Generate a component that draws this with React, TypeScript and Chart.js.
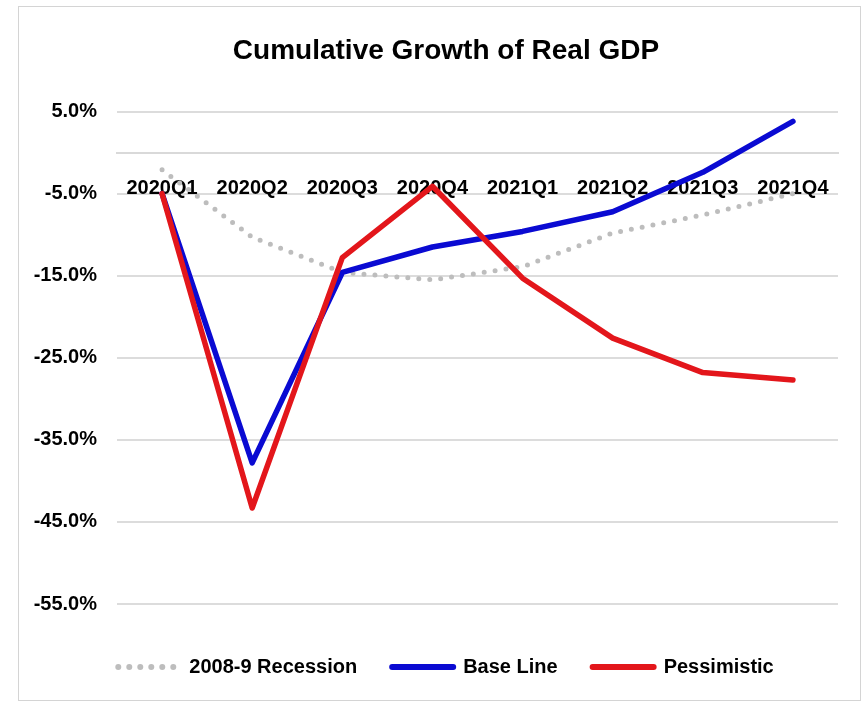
import React, { useEffect, useRef } from "react";
import { Chart, registerables } from "chart.js";

Chart.register(...registerables);

const CATEGORIES = ["2020Q1", "2020Q2", "2020Q3", "2020Q4", "2021Q1", "2021Q2", "2021Q3", "2021Q4"];
const RECESSION = [-2.1, -10.3, -14.6, -15.5, -13.9, -9.8, -7.6, -5.0];
const BASE_LINE = [-5.0, -37.8, -14.6, -11.5, -9.6, -7.2, -2.4, 3.8];
const PESSIMISTIC = [-5.0, -43.3, -12.8, -4.1, -15.3, -22.6, -26.8, -27.7];
const SERIES_NAMES = ["2008-9 Recession", "Base Line", "Pessimistic"];
const Y_MIN = -55;
const Y_MAX = 5;
const Y_STEP = 10;
const TITLE = "Cumulative Growth of Real GDP";

const SANS = "'Liberation Sans', Arial, sans-serif";

export default function App() {
  const canvasRef = useRef<HTMLCanvasElement | null>(null);

  useEffect(() => {
    const canvas = canvasRef.current;
    if (!canvas) return;
    const chart = new Chart(canvas, {
      type: "line",
      data: {
        labels: CATEGORIES,
        datasets: [
          {
            label: SERIES_NAMES[0],
            data: RECESSION,
            borderColor: "#bdbdbd",
            backgroundColor: "#bdbdbd",
            borderWidth: 5,
            borderDash: [0, 11],
            borderCapStyle: "round",
            pointRadius: 0,
            tension: 0,
            order: 3,
          },
          {
            label: SERIES_NAMES[1],
            data: BASE_LINE,
            borderColor: "#0a0ad2",
            backgroundColor: "#0a0ad2",
            borderWidth: 5.5,
            borderCapStyle: "round",
            borderJoinStyle: "round",
            pointRadius: 0,
            tension: 0,
            order: 2,
          },
          {
            label: SERIES_NAMES[2],
            data: PESSIMISTIC,
            borderColor: "#e3161b",
            backgroundColor: "#e3161b",
            borderWidth: 5.5,
            borderCapStyle: "round",
            borderJoinStyle: "round",
            pointRadius: 0,
            tension: 0,
            order: 1,
          },
        ],
      },
      options: {
        responsive: false,
        animation: false,
        devicePixelRatio: 1,
        layout: { padding: { left: 54, right: 24, top: 0, bottom: 15 } },
        plugins: {
          title: {
            display: true,
            text: TITLE,
            color: "#000",
            font: { family: SANS, size: 28, weight: "bold" },
            padding: { top: 34, bottom: 44 },
          },
          legend: {
            display: true,
            position: "bottom",
            labels: {
              usePointStyle: true,
              pointStyle: "line",
              pointStyleWidth: 61,
              padding: 35,
              color: "#000",
              font: { family: SANS, size: 20, weight: "bold" },
              sort: (a: any, b: any) => a.datasetIndex - b.datasetIndex,
              generateLabels: (c: any) => {
                const items = Chart.defaults.plugins.legend.labels.generateLabels(c);
                return items.map((it: any) => {
                  const ds: any = c.data.datasets[it.datasetIndex];
                  return {
                    ...it,
                    pointStyle: "line",
                    strokeStyle: ds.borderColor,
                    fillStyle: ds.borderColor,
                    lineWidth: 6,
                    lineDash: ds.borderDash || [],
                    lineCap: "round",
                  };
                });
              },
            },
          },
          tooltip: { enabled: false },
        },
        scales: {
          x: {
            type: "category",
            position: { y: 0 } as any,
            offset: true,
            grid: { display: true, color: "rgba(0,0,0,0)", drawTicks: false },
            border: { display: true, color: "#d9d9d9", width: 2 },
            ticks: {
              color: "#000",
              font: { family: SANS, size: 20, weight: "bold" },
              padding: 24,
              maxRotation: 0,
              autoSkip: false,
            },
          },
          xPad: {
            type: "category",
            position: "bottom",
            display: true,
            grid: { display: false },
            border: { display: false },
            ticks: { display: false },
            afterFit: (s: any) => {
              s.height = 18;
            },
          },
          y: {
            type: "linear",
            min: Y_MIN,
            max: Y_MAX,
            grid: { color: "#dcdcdc", lineWidth: 2, drawTicks: false },
            border: { display: false },
            ticks: {
              stepSize: Y_STEP,
              color: "#000",
              padding: 20,
              font: { family: SANS, size: 20, weight: "bold" },
              callback: (v: any) => Number(v).toFixed(1) + "%",
            },
            afterFit: (s: any) => {
              s.width = 63;
              s._computeLabelArea = () => undefined;
            },
          },
        },
      },
    } as any);
    return () => chart.destroy();
  }, []);

  return (
    <div style={{ position: "absolute", left: 0, top: 0, width: 862, height: 702, background: "#fff" }}>
      <div
        style={{
          position: "absolute",
          left: 18,
          top: 6,
          width: 843,
          height: 695,
          boxSizing: "border-box",
          border: "1px solid #d4d4d4",
        }}
      />
      <canvas ref={canvasRef} width={862} height={702} style={{ position: "absolute", left: 0, top: 0 }} />
    </div>
  );
}
